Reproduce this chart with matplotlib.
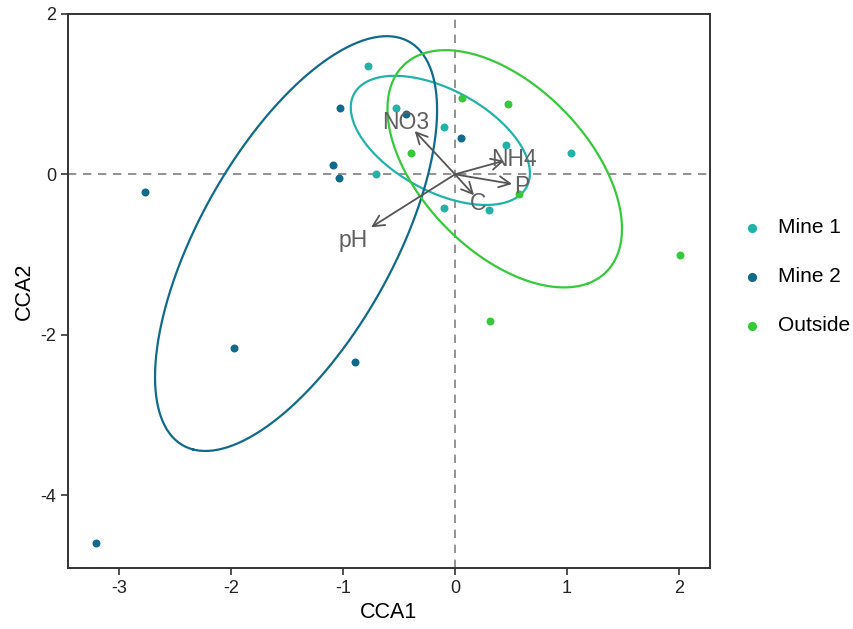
import numpy as np
import matplotlib.pyplot as plt

plt.rcParams['font.family'] = ['Liberation Sans', 'DejaVu Sans']
plt.rcParams['axes.unicode_minus'] = False

# site scores
mine1_x = [-0.78, -0.53, -0.10, -0.71, -0.10, 0.30, 0.46, 1.04]
mine1_y = [1.35, 0.83, 0.59, 0.00, -0.42, -0.44, 0.37, 0.27]
mine2_x = [-1.03, -0.44, 0.05, -1.09, -1.04, -2.77, -1.98, -0.89, -3.21]
mine2_y = [0.83, 0.75, 0.45, 0.12, -0.05, -0.22, -2.16, -2.34, -4.59]
out_x = [0.06, 0.47, -0.39, 0.57, 0.31, 2.01]
out_y = [0.95, 0.88, 0.26, -0.25, -1.83, -1.01]

# points (an ellipse is fitted through them)
ell1_x = [-0.92, -0.82, -0.58, -0.28, 0.02, 0.31, 0.55, 0.66, 0.58, 0.37, 0.11, -0.28, -0.67, -0.88]
ell1_y = [0.80, 1.11, 1.21, 1.19, 1.05, 0.76, 0.42, 0.05, -0.28, -0.41, -0.32, -0.16, 0.17, 0.51]
ell2_x = [-0.19, -0.02, 0.00, -0.13, -0.43, -1.03, -1.63, -2.22, -2.64, -2.73, -2.52, -1.92, -1.33, -0.73]
ell2_y = [1.65, 1.38, 0.76, -0.37, -1.36, -2.36, -2.98, -3.19, -2.85, -2.15, -1.11, 0.22, 1.05, 1.59]
ell3_x = [-0.07, 0.43, 0.91, 1.27, 1.45, 1.42, 1.18, 0.73, 0.22, -0.22, -0.55, -0.64, -0.49]
ell3_y = [1.48, 1.38, 0.92, 0.26, -0.41, -1.03, -1.40, -1.40, -0.99, -0.28, 0.30, 0.59, 1.25]

# environmental arrows
env_names = ["NO3", "NH4", "P", "C", "pH"]
env_x = [-0.36, 0.44, 0.51, 0.17, -0.75]
env_y = [0.54, 0.17, -0.12, -0.26, -0.66]
lab_x = [-0.44, 0.53, 0.60, 0.21, -0.91]
lab_y = [0.64, 0.19, -0.15, -0.36, -0.82]

groups = ["Mine 1", "Mine 2", "Outside"]
colors = ["#21B3AA", "#0F6A8B", "#36C93A"]


def fit_ellipse(xs, ys, segs=300):
    x = np.asarray(xs)
    y = np.asarray(ys)
    A = np.column_stack([x * x, x * y, y * y, x, y])
    a, b, c, d, e = np.linalg.lstsq(A, np.ones(len(x)), rcond=None)[0]
    M = np.array([[a, b / 2], [b / 2, c]])
    x0 = np.linalg.solve(2 * M, -np.array([d, e]))
    k = 1 + x0 @ M @ x0
    vals, vecs = np.linalg.eigh(M / k)
    t = np.linspace(0, 2 * np.pi, segs)
    circ = np.vstack([np.cos(t), np.sin(t)])
    pts = x0[:, None] + vecs @ (circ / np.sqrt(vals)[:, None])
    return pts[0], pts[1]


fig = plt.figure(figsize=(8.54, 6.29), dpi=100)
ax = fig.add_axes([0.0796, 0.097, 0.7518, 0.881])

ax.axhline(0, color="#808080", ls=(0, (5, 4)), lw=1.2, zorder=1)
ax.axvline(0, color="#808080", ls=(0, (5, 4)), lw=1.2, zorder=1)

data = [(mine1_x, mine1_y), (mine2_x, mine2_y), (out_x, out_y)]
ells = [(ell1_x, ell1_y), (ell2_x, ell2_y), (ell3_x, ell3_y)]
for (xs, ys), (ex, ey), g, c in zip(data, ells, groups, colors):
    ax.scatter(xs, ys, s=33, color=c, label=g, zorder=3, linewidths=0)
    fx, fy = fit_ellipse(ex, ey)
    ax.plot(fx, fy, color=c, lw=1.6, zorder=2)

for i in range(len(env_names)):
    ax.annotate("", xy=(env_x[i], env_y[i]), xytext=(0, 0),
                arrowprops=dict(arrowstyle="->", color="#555555", lw=1.3,
                                shrinkA=0, shrinkB=0, mutation_scale=20))
    ax.text(lab_x[i], lab_y[i], env_names[i], color="#606060", fontsize=16.5,
            ha="center", va="center", zorder=4)

ax.set_xlim(-3.46, 2.28)
ax.set_ylim(-4.905, 2.0)
ax.set_xticks([-3, -2, -1, 0, 1, 2])
ax.set_yticks([-4, -2, 0, 2])
ax.tick_params(labelsize=13, length=5, width=1.2, color="#333333", labelcolor="#222222")
ax.set_xlabel("CCA1", fontsize=15.5)
ax.set_ylabel("CCA2", fontsize=15.5)
for s in ax.spines.values():
    s.set_color("#333333")
    s.set_linewidth(1.4)

fig.legend(loc="center left", bbox_to_anchor=(0.868, 0.56), frameon=False,
           fontsize=15, labelspacing=1.45, handletextpad=0.75, handlelength=1.0,
           borderaxespad=0, borderpad=0, markerscale=1.15)

plt.savefig("out.png", dpi=100)
